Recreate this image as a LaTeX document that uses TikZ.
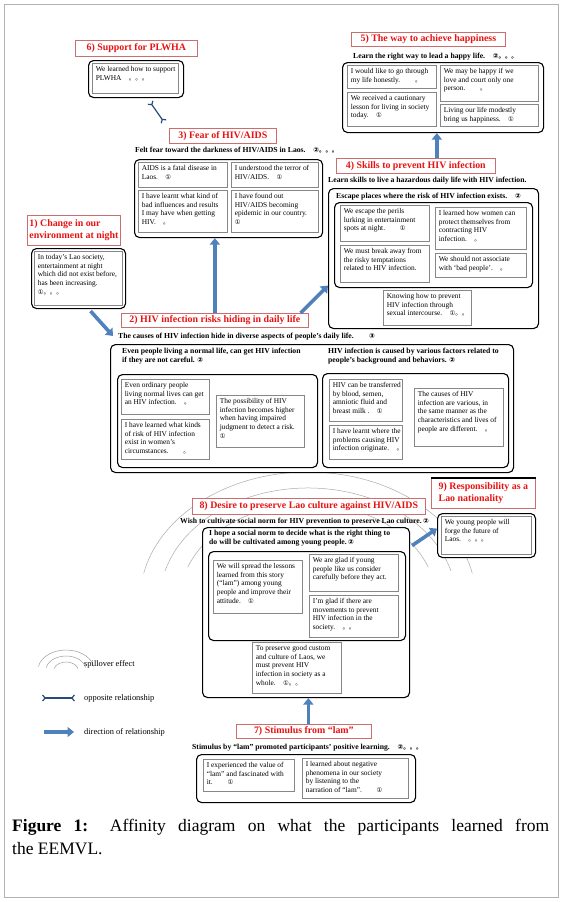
\documentclass[tikz,border=0pt]{standalone}
\usepackage{fontspec}
\setmainfont{Liberation Serif}
\newfontfamily\symf{DejaVu Sans}
\newfontfamily\cjkf{Noto Sans CJK JP}
\usetikzlibrary{arrows.meta}
\definecolor{lblred}{RGB}{232,18,18}
\definecolor{lblbox}{RGB}{205,110,110}
\definecolor{arrblue}{RGB}{79,129,189}
\definecolor{oppblue}{RGB}{40,75,120}
\definecolor{ingray}{RGB}{135,135,135}
\newcommand{\cOne}{{\symf\fontsize{6.4}{6}\selectfont\char"2460}}
\newcommand{\cTwo}{{\symf\fontsize{6.8}{6}\selectfont\char"2461}}
\newcommand{\cThree}{{\symf\fontsize{6.8}{6}\selectfont\char"2462}}
\newcommand{\jdot}{{\cjkf\fontsize{6.4}{6}\selectfont\char"3002}}
\newcommand{\nohy}{\hyphenpenalty=10000 \exhyphenpenalty=10000 }
\newcommand{\bodyfont}{\fontsize{7.4}{8.7}\selectfont\nohy}
\newcommand{\headfont}{\bfseries\fontsize{7.7}{9.1}\selectfont\nohy}
\newcommand{\labfont}{\bfseries\fontsize{9.9}{11.5}\selectfont}
\newcommand{\legfont}{\fontsize{8.4}{10}\selectfont}
\newcommand{\capfont}{\fontsize{17.5}{23}\selectfont}
\newcommand{\obx}[5]{%
  \pgfmathsetmacro\myW{#4-#2}\pgfmathsetmacro\myH{#5-#3}%
  \node[obox, anchor=north west, minimum width=\myW pt, minimum height=\myH pt] (#1) at (#2,#3) {};}
\newcommand{\ibx}[6]{%
  \pgfmathsetmacro\myW{#4-#2}\pgfmathsetmacro\myH{#5-#3}%
  \node[ibox, anchor=north west, minimum width=\myW pt, minimum height=\myH pt] (#1) at (#2,#3) {};
  \node[btxt, anchor=north west] (#1t) at ([shift={(3.6pt,-3pt)}]#1.north west) {#6};}
\newcommand{\lbx}[7][center]{%
  \pgfmathsetmacro\myW{#5-#3}\pgfmathsetmacro\myH{#6-#4}%
  \node[lbox, anchor=north west, minimum width=\myW pt, minimum height=\myH pt] (#2) at (#3,#4) {};
  \node[ltxt, align=#1] (#2t) at (#2.center) {#7};}
\begin{document}
\begin{tikzpicture}[x=1pt,y=-1pt,
  obox/.style={draw=black, line width=1.1pt, rounded corners=5pt, fill=white, inner sep=0pt},
  ibox/.style={draw=ingray, line width=0.9pt, fill=white, inner sep=0pt},
  lbox/.style={draw=lblbox, line width=0.7pt, fill=white, inner sep=0pt},
  ltxt/.style={text=lblred, font=\labfont, inner sep=0pt},
  btxt/.style={font=\bodyfont, inner sep=0pt, align=left},
  hd/.style={font=\headfont, inner sep=0pt, anchor=west, align=left},
  dirarrow/.style={draw=arrblue, line width=3.6pt, -{Triangle[width=10pt,length=6.5pt]}},
  opp/.style={draw=oppblue, line width=1.2pt, {Straight Barb[reversed,width=6pt,length=2.5pt]}-{Straight Barb[reversed,width=6pt,length=2.5pt]}},
  spill/.style={draw=gray!65, line width=0.5pt}]
\useasboundingbox (0,0) rectangle (563,902);
\fill[white] (0,0) rectangle (563,902);
\draw[gray!60, line width=0.5pt] (4,4) rectangle (558,897);

% spillover arcs around group 8
\coordinate (c8) at (308,600);
\draw[spill] ([shift={(168:168pt and 128pt)}]c8) arc[start angle=168, end angle=12, x radius=168pt, y radius=128pt];
\draw[spill] ([shift={(165:148pt and 112pt)}]c8) arc[start angle=165, end angle=15, x radius=148pt, y radius=112pt];
\draw[spill] ([shift={(160:128pt and 96pt)}]c8) arc[start angle=160, end angle=20, x radius=128pt, y radius=96pt];

% 6) Support
\lbx{l6}{75}{40}{197}{56}{6) Support for PLWHA}
\obx{o6}{88}{60}{183}{97}
\ibx{b6}{92}{63}{178}{93}{We learned how to support\\PLWHA\quad\jdot\jdot\jdot}

% 5) Happiness
\lbx{l5}{351}{32}{505}{46}{5) The way to achieve happiness}
\node[hd] (h5) at (353,57) {Learn the right way to lead a happy life.\quad\cTwo\jdot\jdot\jdot};
\obx{o5}{342}{62}{543}{132}
\ibx{b5a}{347}{65}{436}{88}{I would like to go through\\my life honestly.\qquad\jdot}
\ibx{b5b}{347}{92}{436}{126}{We received a cautionary\\lesson for living in society\\today.\quad\cOne}
\ibx{b5c}{440}{65}{538}{101}{We may be happy if we\\love and court only one\\person.\qquad\jdot}
\ibx{b5d}{440}{104}{538}{126}{Living our life modestly\\bring us happiness.\quad\cOne}

% 3) Fear
\lbx{l3}{169}{128}{276}{143}{3) Fear of HIV/AIDS}
\node[hd] (h3) at (135,150) {Felt fear toward the darkness of HIV/AIDS in Laos.\quad\cTwo\jdot\jdot\jdot};
\obx{o3}{134}{159}{322}{237}
\ibx{b3a}{138}{162}{227}{187}{AIDS is a fatal disease in\\Laos.\quad\cOne}
\ibx{b3b}{231}{162}{318}{187}{I understood the terror of\\HIV/AIDS.\quad\cOne}
\ibx{b3c}{138}{190}{227}{232}{I have learnt what kind of\\bad influences and results\\I may have when getting\\HIV.\quad\jdot}
\ibx{b3d}{231}{190}{318}{232}{I have found out\\HIV/AIDS becoming\\epidemic in our country.\\\cOne}

% 4) Skills
\lbx{l4}{336}{158}{495}{173}{4) Skills to prevent HIV infection}
\node[hd] (h4) at (328,181) {Learn skills to live a hazardous daily life with HIV infection.};
\obx{o4}{328}{188}{538}{328}
\node[hd] (h4b) at (336,197) {Escape places where the risk of HIV infection exists.\quad\cTwo};
\obx{o4b}{334}{202}{532}{287}
\ibx{b4a}{340}{205}{429}{241}{We escape the perils\\lurking in entertainment\\spots at night.\qquad\cOne}
\ibx{b4b}{340}{245}{429}{282}{We must break away from\\the risky temptations\\related to HIV infection.}
\ibx{b4c}{435}{207}{526}{249}{I learned how women can\\protect themselves from\\contracting HIV\\infection.\quad\jdot}
\ibx{b4d}{435}{253}{526}{277}{We should not associate\\with `bad people'.\quad\jdot}
\ibx{b4e}{383}{290}{471}{325}{Knowing how to prevent\\HIV infection through\\sexual intercourse.\quad\cOne\jdot\jdot}

% 1) Change
\lbx[left]{l1}{27}{215}{120}{245}{1) Change in our\\environment at night}
\obx{o1}{31}{248}{125}{308}
\ibx{b1}{34}{251}{122}{305}{In today's Lao society,\\entertainment at night\\which did not exist before,\\has been increasing.\\\cOne\jdot\jdot\jdot}

% 2) Risks
\lbx{l2}{121}{313}{308}{327}{2) HIV infection risks hiding in daily life}
\node[hd] (h2) at (118,337) {The causes of HIV infection hide in diverse aspects of people's daily life.\qquad\cThree};
\obx{oB}{110}{344}{513}{472}
\node[hd, anchor=north west] (hBL) at (122,348) {Even people living a normal life, can get HIV infection\\if they are not careful. \cTwo};
\obx{oBL}{117}{374}{317}{467}
\ibx{bBLa}{121}{379}{209}{414}{Even ordinary people\\living normal lives can get\\an HIV infection.\quad\jdot}
\ibx{bBLb}{121}{419}{209}{459}{I have learned what kinds\\of risk of HIV infection\\exist in women's\\circumstances.\qquad\jdot}
\ibx{bBLc}{216}{395}{304}{447}{The possibility of HIV\\infection becomes higher\\when having impaired\\judgment to detect a risk.\\\cOne}
\node[hd, anchor=north west] (hBR) at (328,348) {HIV infection is caused by various factors related to\\people's background and behaviors. \cTwo};
\obx{oBR}{322}{373}{508}{467}
\ibx{bBRa}{329}{379}{402}{421}{HIV can be transferred\\by blood, semen,\\amniotic fluid and\\breast milk .\quad\cOne}
\ibx{bBRb}{329}{425}{402}{459}{I have learnt where the\\problems causing HIV\\infection originate.\quad\jdot}
\ibx{bBRc}{414}{388}{503}{446}{The causes of HIV\\infection are various, in\\the same manner as the\\characteristics and lives of\\people are different.\quad\jdot}

% 8) Desire
\lbx{l8}{192}{498}{425}{514}{8) Desire to preserve Lao culture against HIV/AIDS}
\node[hd] (h8) at (180,522) {Wish to cultivate social norm for HIV prevention to preserve Lao culture.\,\cTwo};
\obx{o8}{202}{527}{409}{697}
\node[hd, anchor=north west] (h8b) at (209,530) {I hope a social norm to decide what is the right thing to\\do will be cultivated among young people.\,\cTwo};
\obx{o8b}{208}{551}{405}{640}
\ibx{b8a}{213}{560}{302}{613}{We will spread the lessons\\learned from this story\\(“lam”) among young\\people and improve their\\attitude.\quad\cOne}
\ibx{b8b}{309}{554}{398}{591}{We are glad if young\\people like us consider\\carefully before they act.}
\ibx{b8c}{309}{595}{398}{637}{I'm glad if there are\\movements to prevent\\HIV infection in the\\society.\quad\jdot\jdot}
\ibx{b8d}{252}{642}{341}{693}{To preserve good custom\\and culture of Laos, we\\must prevent HIV\\infection in society as a\\whole.\quad\cOne\jdot\jdot}

% 9) Responsibility
\lbx[left]{l9}{431}{478}{535}{508}{9) Responsibility as a\\Lao nationality}
\draw[line width=1.2pt] (l9.north west) -- (l9.north east);
\obx{o9}{437}{513}{535}{557}
\ibx{b9}{441}{516}{531}{554}{We young people will\\forge the future of\\Laos.\quad\jdot\jdot\jdot}

% 7) Stimulus
\lbx{l7}{236}{724}{371}{738}{7) Stimulus from “lam”}
\node[hd] (h7) at (192,748) {Stimulus by “lam” promoted participants' positive learning.\quad\cTwo\jdot\jdot\jdot};
\obx{o7}{196}{754}{415}{802}
\ibx{b7a}{203}{759}{294}{791}{I experienced the value of\\“lam” and fascinated with\\it.\qquad\cOne}
\ibx{b7b}{302}{758}{408}{798}{I learned about negative\\phenomena in our society\\by listening to the\\narration of “lam”.\qquad\cOne}

% connectors
\draw[opp] ([shift={(14pt,-4pt)}]o6.south) -- ([shift={(-5pt,6pt)}]l3.north west);
\draw[dirarrow] ([shift={(12pt,-2pt)}]o1.south) -- ([shift={(-5pt,1pt)}]h2.west);
\draw[dirarrow] (l2.north) -- (l2.north |- o3.south);
\draw[dirarrow] ([xshift=-8pt]l2.north east) -- ([yshift=-27pt]o4.west);
\draw[dirarrow] ([xshift=21pt]l4.north) -- ([xshift=21pt]l4.north |- o5.south);
\draw[dirarrow] ([shift={(2pt,67pt)}]o8.east) -- ([yshift=7pt]o9.west);
\draw[dirarrow] ([xshift=4.5pt]l7.north) -- ([xshift=4.5pt]l7.north |- o8.south);

% legend
\coordinate (c0) at (66,670);
\draw[spill, draw=gray!75] ([shift={(170:28pt and 20pt)}]c0) arc[start angle=170, end angle=10, x radius=28pt, y radius=20pt];
\draw[spill, draw=gray!75] ([shift={(170:20pt and 14pt)}]c0) arc[start angle=170, end angle=10, x radius=20pt, y radius=14pt];
\draw[spill, draw=gray!75] ([shift={(170:12pt and 8pt)}]c0) arc[start angle=170, end angle=10, x radius=12pt, y radius=8pt];
\node[btxt, font=\legfont, anchor=west] (lgs) at (84,664) {spillover effect};
\coordinate (lo1) at (42,698);
\coordinate (lo2) at (75,698);
\draw[opp] (lo1) -- (lo2);
\node[btxt, font=\legfont, anchor=west] (lgo) at (84,698) {opposite relationship};
\coordinate (ld1) at (44,732);
\coordinate (ld2) at (74,732);
\draw[dirarrow] (ld1) -- (ld2);
\node[btxt, font=\legfont, anchor=west] (lgd) at (84,732) {direction of relationship};

% caption
\node[anchor=north west, inner sep=0pt, text width=537pt, font=\capfont, align=justify] (cap) at (12,819) {\textbf{Figure 1:} Affinity diagram on what the participants learned from\linebreak the EEMVL.};
\end{tikzpicture}
\end{document}
